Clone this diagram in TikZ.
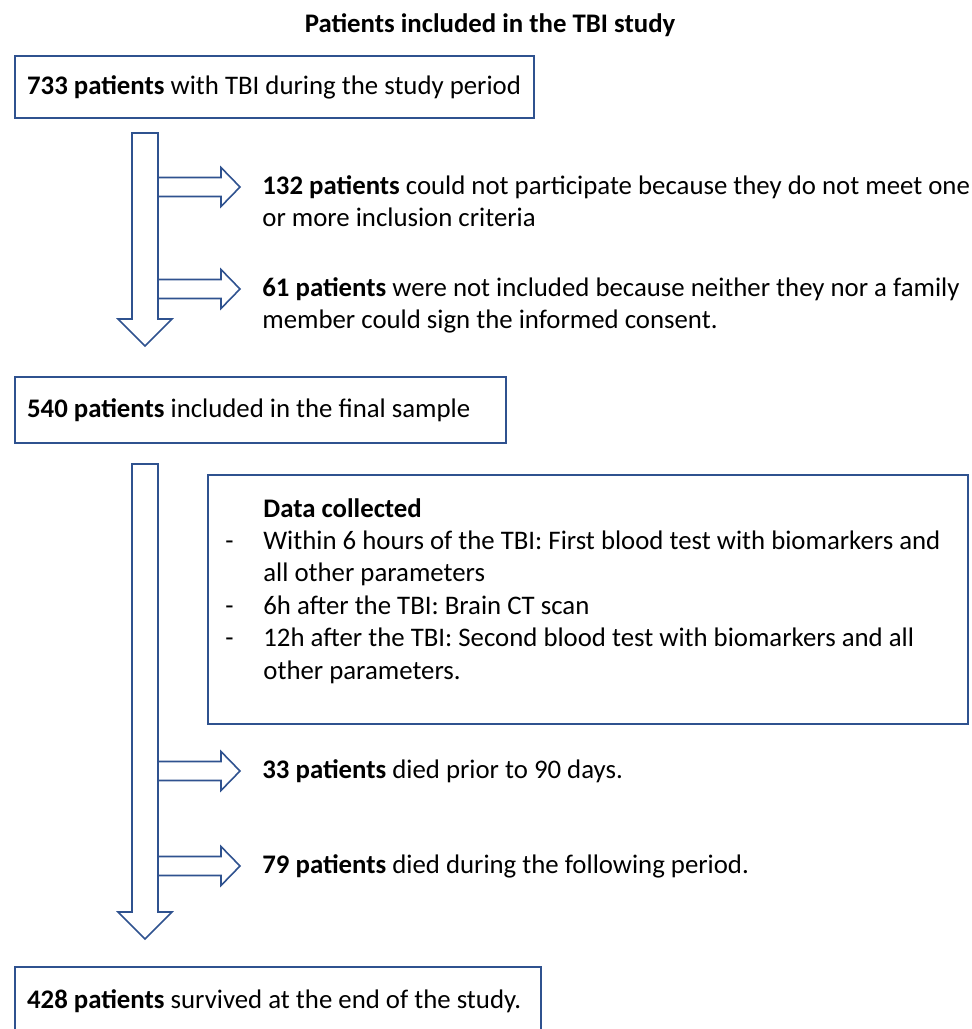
\documentclass[tikz,border=0pt]{standalone}
\usepackage{fontspec}
\setmainfont{Carlito}
\usetikzlibrary{positioning}
\definecolor{flowblue}{HTML}{2F528F}
\tikzset{
	boxframe/.style={draw=flowblue, line width=1.1pt, anchor=north west, inner xsep=6pt, inner ysep=0pt},
	blockarrow/.style={draw=flowblue, line width=0.8pt, line join=miter},
	sidetext/.style={anchor=base west, inner sep=0pt}
}
\def\sidearrow(#1,#2){\draw[blockarrow] (158,#2-9.5) -- (221,#2-9.5) -- (221,#2-19.5) -- (240,#2) -- (221,#2+19.5) -- (221,#2+9.5) -- (158,#2+9.5);
	\coordinate (#1) at (240,#2);}
\def\mainarrow(#1:#2){\draw[blockarrow] (132,#1) -- (132,#2) -- (118,#2) -- (145,#2+27) -- (172,#2) -- (158,#2) -- (158,#1) -- cycle;}

\begin{document}
\begin{tikzpicture}[x=0.5pt, y=-0.5pt, font=\fontsize{13.4}{16.2}\selectfont]
			%%%%% START %%%%%
			\useasboundingbox (0,0) rectangle (972,1029);
			
			\node[font=\fontsize{13.4}{16.2}\selectfont\bfseries] (title) at (490,25) {Patients included in the TBI study};
			
			\node[boxframe, minimum height=31pt] (box733) at (14,55) {\makebox[247.5pt][l]{\textbf{733 patients} with TBI during the study period}};
			
			\mainarrow(133:319)
			\sidearrow(tip132,187)
			\sidearrow(tip61,289)
			
			\node[sidetext] (t132) at ([xshift=11pt,yshift=-3.75pt]tip132) {\begin{tabular}[t]{@{}l@{}}
				\textbf{132 patients} could not participate because they do not meet one\\
				or more inclusion criteria\end{tabular}};
			\node[sidetext] (t61) at ([xshift=11pt,yshift=-3.75pt]tip61) {\begin{tabular}[t]{@{}l@{}}
				\textbf{61 patients} were not included because neither they nor a family\\
				member could sign the informed consent.\end{tabular}};
			
			\node[boxframe, minimum height=33pt] (box540) at (14,376) {\makebox[233.5pt][l]{\textbf{540 patients} included in the final sample}};
			
			\mainarrow(464:912)
			
			\node[boxframe, minimum width=380pt, minimum height=124.5pt] (data) at (207,474) {};
			\node[sidetext] (datalist) at (225,517) {\begin{tabular}[t]{@{}p{19pt}@{}l@{}}
				& \textbf{Data collected}\\
				- & Within 6 hours of the TBI: First blood test with biomarkers and\\
				& all other parameters\\
				- & 6h after the TBI: Brain CT scan\\
				- & 12h after the TBI: Second blood test with biomarkers and all\\
				& other parameters.\end{tabular}};
			
			\sidearrow(tip33,771)
			\sidearrow(tip79,866)
			
			\node[sidetext] (t33) at ([xshift=11pt,yshift=-3.75pt]tip33) {\textbf{33 patients} died prior to 90 days.};
			\node[sidetext] (t79) at ([xshift=11pt,yshift=-3.75pt]tip79) {\textbf{79 patients} died during the following period.};
			
			\node[boxframe, minimum height=34pt] (box428) at (14,966) {\makebox[251pt][l]{\textbf{428 patients} survived at the end of the study.}};
			
			%%%%% END %%%%%
\end{tikzpicture}
\end{document}
